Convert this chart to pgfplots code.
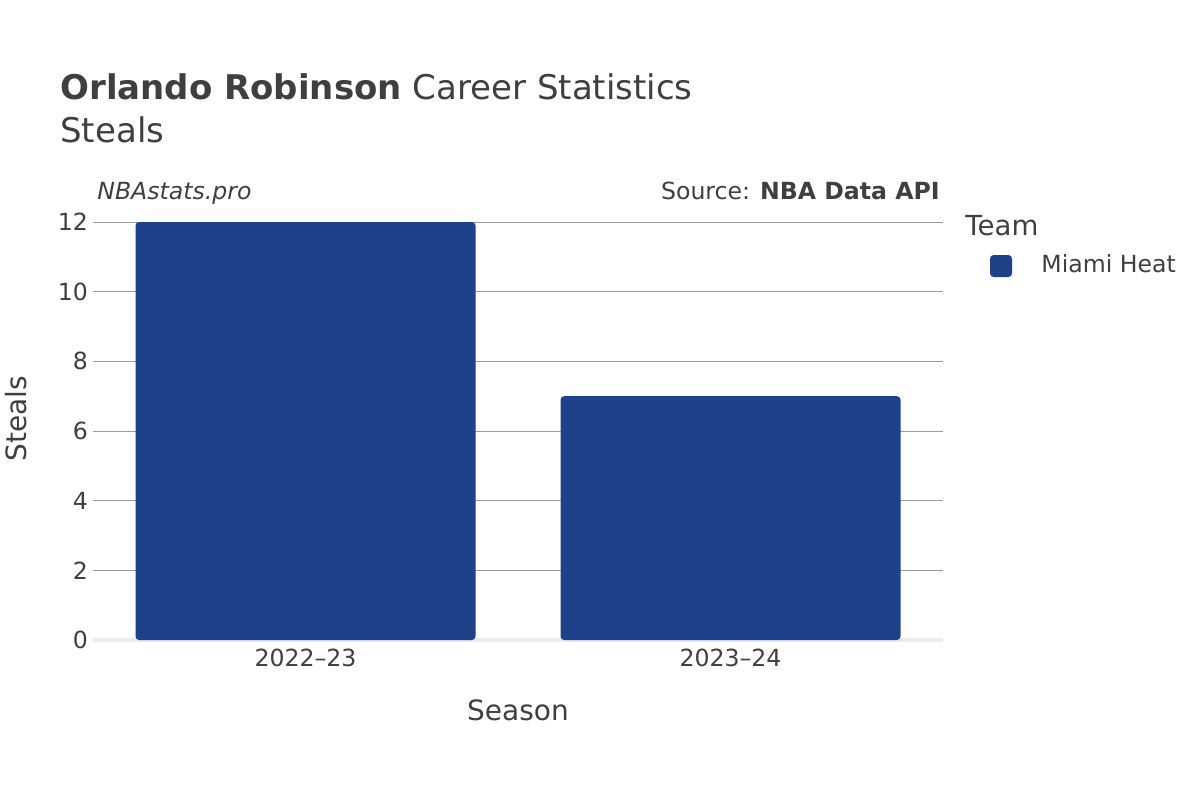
\documentclass[border=0pt]{standalone}
\usepackage{fontspec}
\setmainfont{DejaVu Sans}
\usepackage{pgfplots}
\pgfplotsset{compat=1.18}
\definecolor{txt}{HTML}{3F3F3F}
\definecolor{barc}{HTML}{1D428A}
\definecolor{gridc}{HTML}{9C9C9C}
\definecolor{zeroc}{HTML}{EBEBEB}
\begin{document}
\begin{tikzpicture}[x=1pt,y=1pt]
\path[use as bounding box] (0,0) rectangle (600,400);
\begin{axis}[
  at={(46.5pt,80pt)}, anchor=south west,
  scale only axis, width=425pt, height=209pt,
  xmin=-0.5, xmax=1.5, ymin=0, ymax=12,
  axis line style={draw=none},
  xtick={0,1}, xticklabels={2022–23,2023–24},
  ytick={0,2,4,6,8,10,12},
  ymajorgrids, grid style={gridc, line width=0.5pt},
  major tick length=0pt,
  tick label style={font=\fontsize{11.8}{14}\selectfont, text=txt},
  /pgf/number format/assume math mode=true,
  yticklabel style={xshift=1pt},
  xticklabel style={yshift=-1pt},
  ybar, bar width=0.8, bar shift=0pt,
  clip=false,
]
\draw[zeroc, line width=2pt] (axis cs:-0.5,0) -- (axis cs:1.5,0);
\addplot[fill=barc, draw=none, rounded corners=1.8pt] coordinates {(0,12) (1,7)};
\end{axis}
\node[anchor=base west, text=txt, inner sep=0pt, font=\fontsize{17}{20}\selectfont] at (30,350) {\textbf{Orlando Robinson} Career Statistics};
\node[anchor=base west, text=txt, inner sep=0pt, font=\fontsize{17}{20}\selectfont] at (30,329) {Steals};
\node[anchor=base west, text=txt, inner sep=0pt, font=\fontsize{11.8}{14}\selectfont\itshape] at (48.5,300.5) {NBAstats.pro};
\node[anchor=base east, text=txt, inner sep=0pt, font=\fontsize{11.8}{14}\selectfont] at (470,300.5) {Source: \textbf{NBA Data API}};
\node[anchor=base west, text=txt, inner sep=0pt, font=\fontsize{13.8}{16}\selectfont] at (482.5,282.5) {Team};
\fill[barc, rounded corners=1.8pt] (495,261.5) rectangle (506,272.5);
\node[anchor=base west, text=txt, inner sep=0pt, font=\fontsize{11.8}{14}\selectfont] at (520.5,264) {Miami Heat};
\node[anchor=base, text=txt, inner sep=0pt, font=\fontsize{14}{16}\selectfont] at (259,40) {Season};
\node[anchor=base, rotate=90, text=txt, inner sep=0pt, font=\fontsize{14}{16}\selectfont] at (13,190.5) {Steals};
\end{tikzpicture}
\end{document}
